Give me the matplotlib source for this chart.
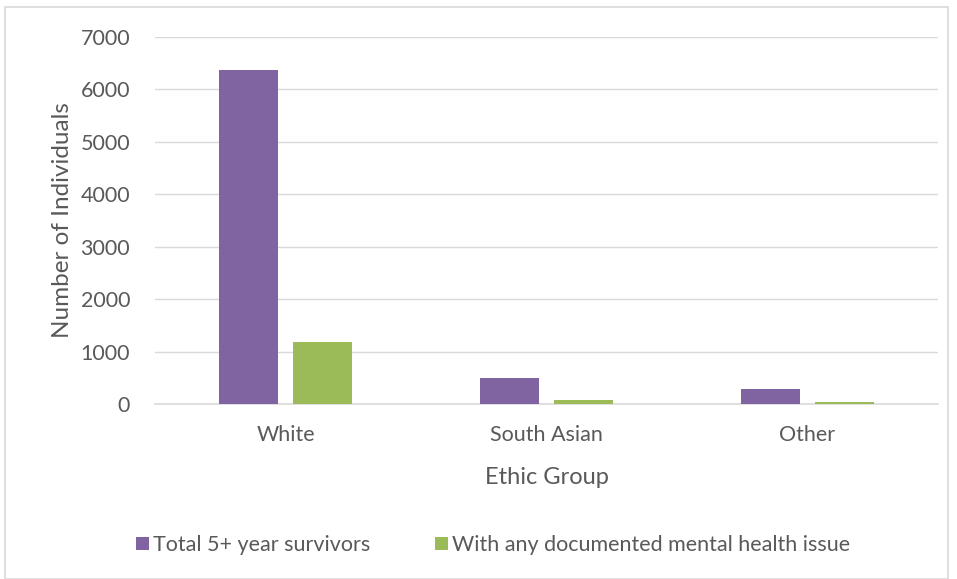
import matplotlib
matplotlib.use("Agg")
import matplotlib.pyplot as plt
import numpy as np
from matplotlib.patches import Rectangle

categories = ["White", "South Asian", "Other"]
total_survivors = [6370, 490, 280]
mental_health = [1185, 80, 35]
series_names = ["Total 5+ year survivors", "With any documented mental health issue"]
y_ticks = [0, 1000, 2000, 3000, 4000, 5000, 6000, 7000]

plt.rcParams['font.family'] = ['Lato', 'DejaVu Sans']
txt = '#595959'

fig = plt.figure(figsize=(9.57, 5.79), dpi=100)
ax = fig.add_axes([155/957, 1-404/579, (938-155)/957, (404-37)/579])

x = np.arange(len(categories))
w = 0.226
off = 0.142
ax.bar(x - off, total_survivors, w, color='#8064A2', label=series_names[0], zorder=3)
ax.bar(x + off, mental_health, w, color='#9BBB59', label=series_names[1], zorder=3)

ax.set_xlim(-0.5, 2.5)
ax.set_ylim(0, 7000)
ax.set_yticks(y_ticks)
ax.set_yticklabels([str(v) for v in y_ticks])
ax.set_xticks(x)
ax.set_xticklabels(categories)
ax.grid(axis='y', color='#D9D9D9', linewidth=1, zorder=0)
for s in ['top', 'right', 'left']:
    ax.spines[s].set_visible(False)
ax.spines['bottom'].set_color('#D9D9D9')
ax.spines['bottom'].set_linewidth(1.2)
ax.tick_params(axis='both', length=0, colors=txt, labelsize=15.5)
ax.tick_params(axis='y', pad=18)
ax.tick_params(axis='x', pad=15)
ax.set_ylabel("Number of Individuals", fontsize=17.5, color=txt, labelpad=5)
ax.set_xlabel("Ethic Group", fontsize=17, color=txt, labelpad=16)

leg = fig.legend(loc='center', bbox_to_anchor=(493/957, 1-545/579), ncol=2,
                 frameon=False, fontsize=15.5, handlelength=0.6, handleheight=0.6,
                 handletextpad=0.2, columnspacing=3.0)
for t in leg.get_texts():
    t.set_color(txt)

fig.patches.append(Rectangle((5/957, 0), 943/957, 1-7/579, transform=fig.transFigure,
                             fill=False, edgecolor='#D9D9D9', linewidth=1.2))

fig.savefig("out.png", dpi=100)
